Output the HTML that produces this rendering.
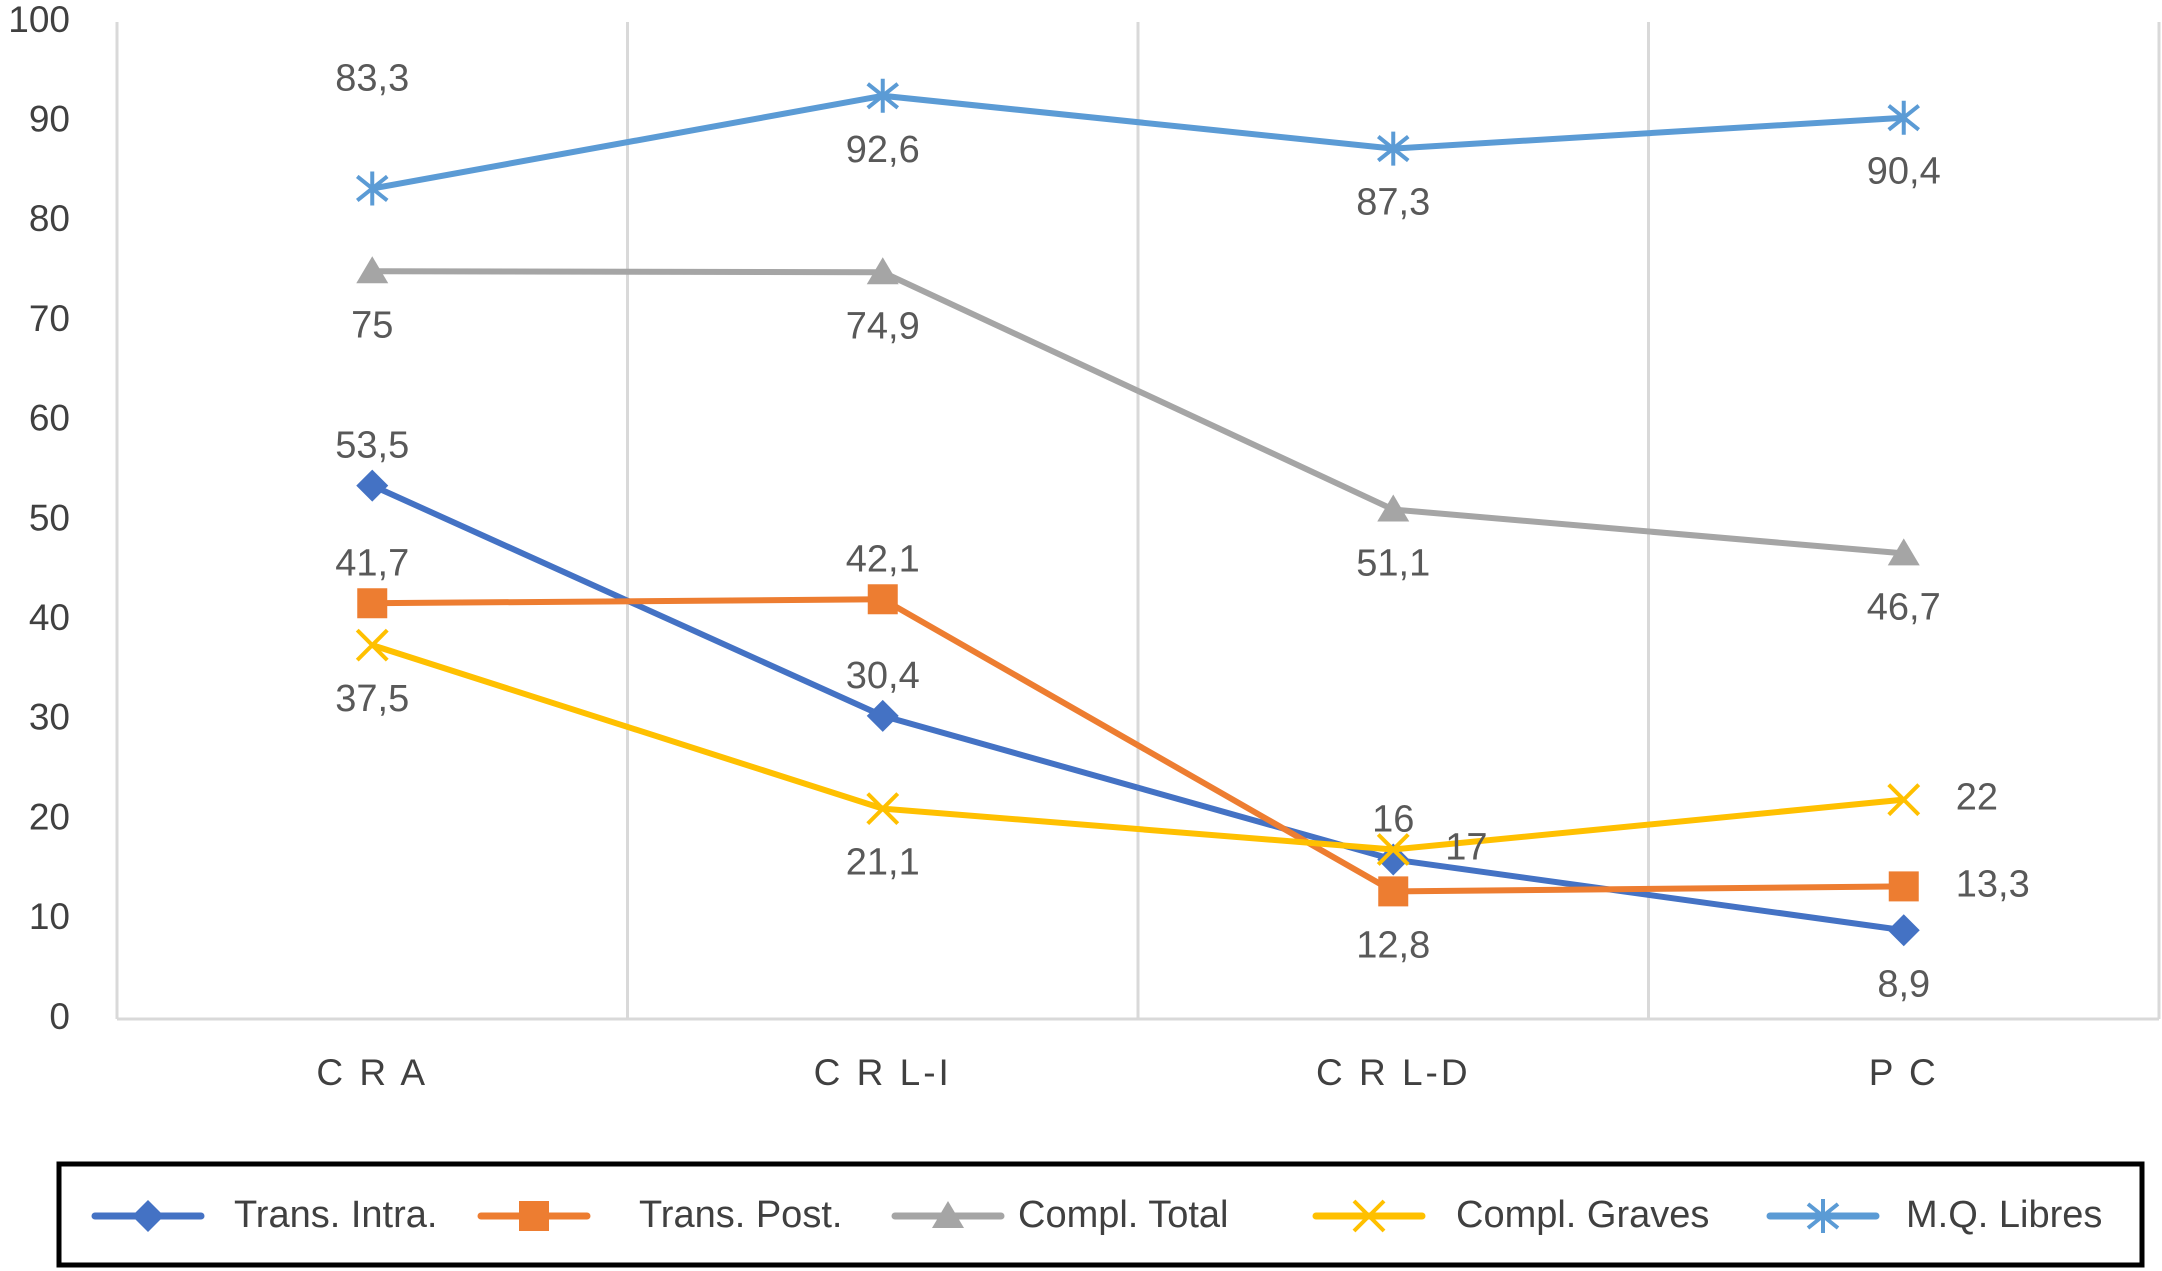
<!DOCTYPE html>
<html><head><meta charset="utf-8"><style>
body{margin:0;background:#fff;}
svg{display:block;font-family:"Liberation Sans",sans-serif;}
</style></head><body>
<svg id="chart" width="2162" height="1271" viewBox="0 0 2162 1271"></svg>
<script>
const categories = ["C R A", "C R L-I", "C R L-D", "P C"];
const yTicks = [0,10,20,30,40,50,60,70,80,90,100];
const seriesNames = ["Trans. Intra.", "Trans. Post.", "Compl. Total", "Compl. Graves", "M.Q. Libres"];
const transIntra = [53.5, 30.4, 16, 8.9];
const transPost = [41.7, 42.1, 12.8, 13.3];
const complTotal = [75, 74.9, 51.1, 46.7];
const complGraves = [37.5, 21.1, 17, 22];
const mqLibres = [83.3, 92.6, 87.3, 90.4];
const labelsIntra = ["53,5","30,4","16","8,9"];
const labelsPost = ["41,7","42,1","12,8","13,3"];
const labelsTotal = ["75","74,9","51,1","46,7"];
const labelsGraves = ["37,5","21,1","17","22"];
const labelsMQ = ["83,3","92,6","87,3","90,4"];

const NS="http://www.w3.org/2000/svg";
const svg=document.getElementById('chart');
const L=117,R=2159,T=22,B=1019;
const x=i=>L+(R-L)/categories.length*(i+0.5);
const y=v=>B-(B-T)*v/100;
function el(tag,attrs,parent){const e=document.createElementNS(NS,tag);for(const k in attrs)e.setAttribute(k,attrs[k]);(parent||svg).appendChild(e);return e;}

for(let i=0;i<=categories.length;i++){
  const gx=L+(R-L)/categories.length*i;
  const g=el('line',{x1:gx,x2:gx,y1:T,y2:B,stroke:'#d9d9d9','stroke-width':3});
  
  
}
const ax=el('line',{x1:L,x2:R,y1:B,y2:B,stroke:'#d9d9d9','stroke-width':3});



yTicks.forEach(t=>{
  const tx=el('text',{x:70,y:y(t),'text-anchor':'end','dominant-baseline':'middle','font-size':37,fill:'#404040'});
  tx.textContent=t;
  
  
});
categories.forEach((c,i)=>{
  const tx=el('text',{x:x(i),y:1075,'text-anchor':'middle','dominant-baseline':'middle','font-size':37,fill:'#404040','letter-spacing':'3'});
  tx.textContent=c;
  
  
});

function marker(type,cx,cy,color,g){
  if(type==='diamond') return el('polygon',{points:`${cx},${cy-16} ${cx+16},${cy} ${cx},${cy+16} ${cx-16},${cy}`,fill:color},g);
  if(type==='square') return el('rect',{x:cx-15,y:cy-15,width:30,height:30,fill:color},g);
  if(type==='triangle') return el('polygon',{points:`${cx},${cy-15} ${cx+16},${cy+12} ${cx-16},${cy+12}`,fill:color},g);
  if(type==='x') return el('path',{d:`M${cx-15},${cy-15}L${cx+15},${cy+15}M${cx-15},${cy+15}L${cx+15},${cy-15}`,stroke:color,'stroke-width':4},g);
  if(type==='star') return el('path',{d:`M${cx-15},${cy-12}L${cx+15},${cy+12}M${cx-15},${cy+12}L${cx+15},${cy-12}M${cx},${cy-17}L${cx},${cy+17}`,stroke:color,'stroke-width':4},g);
}
const series=[
 {name:'trans-intra',vals:transIntra,labels:labelsIntra,color:'#4472c4',m:'diamond',pos:['a','a','a','b']},
 {name:'trans-post',vals:transPost,labels:labelsPost,color:'#ed7d31',m:'square',pos:['a','a','b','r']},
 {name:'compl-total',vals:complTotal,labels:labelsTotal,color:'#a5a5a5',m:'triangle',pos:['b','b','b','b']},
 {name:'compl-graves',vals:complGraves,labels:labelsGraves,color:'#ffc000',m:'x',pos:['b','b','r','r']},
 {name:'mq-libres',vals:mqLibres,labels:labelsMQ,color:'#5b9bd5',m:'star',pos:['a2','b','b','b']}
];
series.forEach(s=>{
  const g=el('g',{});
  
  
  const ln=el('polyline',{points:s.vals.map((v,i)=>x(i)+','+y(v)).join(' '),fill:'none',stroke:s.color,'stroke-width':6,'stroke-linejoin':'round'},g);
  
  
  s.vals.forEach((v,i)=>{
    const mk=marker(s.m,x(i),y(v),s.color,g);
    
    
  });
});
series.forEach(s=>{
  s.vals.forEach((v,i)=>{
    const p=s.pos[i];let lx=x(i),ly=y(v),anchor='middle';
    if(p==='a')ly-=38; else if(p==='a2')ly-=108; else if(p==='b')ly+=56; else {lx+=52;anchor='start';}
    const t=el('text',{x:lx,y:ly,'text-anchor':anchor,'dominant-baseline':'middle','font-size':38,fill:'#595959'});
    t.textContent=s.labels[i];
    
    
  });
});

const lg=el('g',{});


el('rect',{x:59,y:1164,width:2083,height:101,fill:'#fff',stroke:'#000','stroke-width':5},lg);
const legLineX=[92,478,892,1313,1767];
const legTextX=[234,639,1018,1456,1906];
series.forEach((s,i)=>{
  const e=el('g',{},lg);
  
  
  const cy=1216;
  el('line',{x1:legLineX[i]+3,x2:legLineX[i]+109,y1:cy,y2:cy,stroke:s.color,'stroke-width':7,'stroke-linecap':'round'},e);
  marker(s.m,legLineX[i]+56,cy,s.color,e);
  const t=el('text',{x:legTextX[i],y:cy+1,'dominant-baseline':'middle','font-size':38,fill:'#404040'},e);
  t.textContent=seriesNames[i];
});
</script>
</body></html>
